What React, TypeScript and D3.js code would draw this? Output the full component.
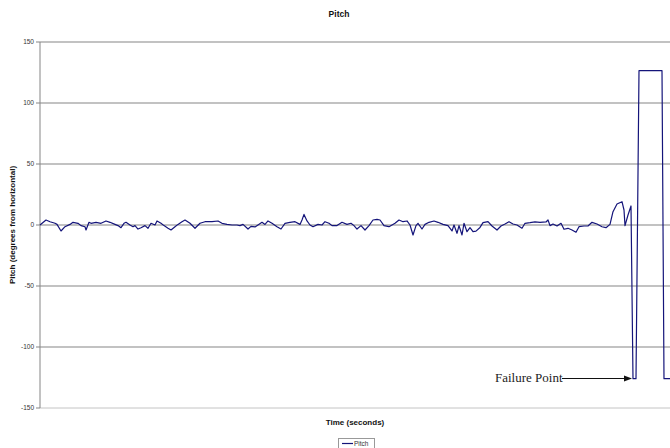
import React from "react";
import * as d3 from "d3";

const title = "Pitch";
const yAxisTitle = "Pitch (degrees from horizontal)";
const xAxisTitle = "Time (seconds)";
const seriesName = "Pitch";
const yTicks = [150, 100, 50, 0, -50, -100, -150];

const times = [
  0.0, 0.6, 1.0, 1.5, 1.7, 2.1, 2.5, 3.0, 3.3, 3.8, 4.1, 4.5, 4.6, 4.9, 5.1, 5.6, 6.1, 6.6, 7.0, 7.5,
  7.8, 8.1, 8.4, 8.6, 9.0, 9.3, 9.5, 9.8, 10.1, 10.5, 10.8, 11.1, 11.5, 11.7, 12.1, 12.4, 12.8, 13.1, 13.5, 13.8,
  14.2, 14.5, 15.0, 15.5, 16.0, 16.5, 17.2, 17.8, 18.2, 18.7, 19.2, 19.7, 20.0, 20.3, 20.8, 21.1, 21.5, 21.8, 22.2, 22.5,
  22.8, 23.2, 23.7, 24.1, 24.5, 25.0, 25.5, 26.0, 26.2, 26.4, 26.7, 27.0, 27.3, 27.8, 28.2, 28.5, 28.9, 29.2, 29.7, 30.2,
  30.7, 31.1, 31.4, 31.7, 32.1, 32.5, 32.9, 33.3, 33.7, 34.0, 34.4, 34.9, 35.5, 35.9, 36.3, 36.7, 37.0, 37.3, 37.6, 37.8,
  38.2, 38.5, 38.9, 39.4, 39.8, 40.3, 40.8, 41.2, 41.4, 41.7, 41.9, 42.2, 42.4, 42.7, 43.0, 43.3, 43.6, 44.0, 44.3, 44.8,
  45.2, 45.7, 46.1, 46.5, 46.9, 47.3, 47.7, 48.2, 48.5, 49.0, 49.5, 50.0, 50.6, 50.8, 51.0, 51.3, 51.7, 52.1, 52.4, 52.8,
  53.2, 53.6, 53.9, 54.4, 54.8, 55.2, 55.7, 56.2, 56.6, 57.0, 57.3, 57.7, 58.2, 58.4, 58.5, 58.8, 59.1, 59.3, 59.6, 59.9,
  62.2, 62.4, 63.0,
];

const pitch = [
  0, 4.1, 2.7, 1.4, 0.5, -4.9, -1.4, 0.5, 2.2, 1.4, -0.5, -1.4, -4.1, 2.2, 1.4, 2.2, 1.4, 3.3, 2.2, 0.5,
  -0.5, -2.2, 1.4, 2.2, 0, -1.4, -0.5, -3.3, -2.2, -0.5, -2.7, 1.4, 0, 3.3, 1.4, -0.5, -2.7, -4.1, -1.4, 0.5,
  2.7, 4.1, 1.4, -2.7, 1.4, 2.7, 2.7, 3.3, 1.4, 0.5, 0, 0, -0.5, 0.5, -3.3, -1.1, -1.6, 0, 2.2, 0.5,
  3.3, 1.4, -1.4, -3.3, 1.4, 2.2, 2.7, 0.5, 4.1, 8.7, 3.3, 0, -1.4, 0.5, 0, 2.7, 1.4, -0.5, -0.5, 2.2,
  0.5, 1.4, -0.5, -3.3, -0.5, -4.1, -0.5, 4.1, 4.6, 4.1, -0.5, -1.4, 1.4, 4.1, 2.7, 3.3, 0, -8.2, -0.5, 1.4,
  -3.3, 0.5, 2.2, 3.3, 2.2, 0.5, -0.5, -4.9, 0, -6.8, -0.5, -8.2, 1.4, -5.5, -2.2, -5.5, -5.0, -2.0, 1.9, 2.7,
  -0.8, -4.1, -0.8, 0.8, 2.7, 0.8, 0, -2.7, 1.4, 1.9, 2.5, 2.2, 2.5, 4.1, -0.5, 0.8, -0.8, 1.4, -3.5, -2.7,
  -4.1, -6.0, -1.4, -0.8, -0.8, 2.2, 0.8, -1.4, -2.2, 0.5, 10.9, 17.2, 19.1, 12.3, -0.5, 8.2, 15.6, -126, -126, 126.5,
  126.5, -126, -126,
];

const W = 670;
const H = 448;
const plot = { left: 40, right: 670, top: 42, bottom: 408 };

export default function App() {
  const x = d3.scaleLinear().domain([0, 63]).range([plot.left, plot.right]);
  const y = d3.scaleLinear().domain([-150, 150]).range([plot.bottom, plot.top]);
  const data = times.map((t, i) => [t, pitch[i]] as [number, number]);
  const line = d3
    .line<[number, number]>()
    .x((d) => x(d[0]))
    .y((d) => y(d[1]));

  const sans = "'Liberation Sans', Arial, sans-serif";
  const navy = "#14147a";

  return (
    <svg
      width={W}
      height={H}
      style={{ position: "absolute", left: 0, top: 0, background: "#fff" }}
      xmlns="http://www.w3.org/2000/svg"
    >
      <rect x={0} y={0} width={W} height={H} fill="#fff" />
      <text x={339} y={17} textAnchor="middle" fontFamily={sans} fontSize={8.5} fontWeight="bold" fill="#111">
        {title}
      </text>
      {yTicks.map((t) => (
        <g key={t}>
          <line
            x1={plot.left}
            x2={plot.right}
            y1={y(t)}
            y2={y(t)}
            stroke={t === -150 ? "#c4c4c4" : "#858585"}
            strokeWidth={1}
          />
          <line x1={plot.left - 4} x2={plot.left} y1={y(t)} y2={y(t)} stroke="#858585" />
          <text
            x={plot.left - 6}
            y={y(t)}
            dy="0.35em"
            textAnchor="end"
            fontFamily={sans}
            fontSize={6.5}
            fill="#333"
          >
            {t}
          </text>
        </g>
      ))}
      <line x1={plot.left} x2={plot.left} y1={plot.top} y2={plot.bottom} stroke="#858585" />
      <path d={line(data) || ""} fill="none" stroke={navy} strokeWidth={1.2} strokeLinejoin="round" />
      <text
        transform={`translate(15, ${(plot.top + plot.bottom) / 2}) rotate(-90)`}
        textAnchor="middle"
        fontFamily={sans}
        fontSize={8}
        fontWeight="bold"
        fill="#111"
      >
        {yAxisTitle}
      </text>
      <text
        x={(plot.left + plot.right) / 2}
        y={425}
        textAnchor="middle"
        fontFamily={sans}
        fontSize={8}
        fontWeight="bold"
        fill="#111"
      >
        {xAxisTitle}
      </text>
      <g>
        <rect x={338.5} y={438.5} width={36} height={10} fill="#fff" stroke="#999" />
        <line x1={342} x2={353} y1={443.5} y2={443.5} stroke={navy} strokeWidth={1.2} />
        <text x={354} y={446} fontFamily={sans} fontSize={6.5} fill="#333">
          {seriesName}
        </text>
      </g>
      <g>
        <text x={495} y={382} fontFamily="'Liberation Serif', 'Times New Roman', serif" fontSize={13} fill="#222">
          Failure Point
        </text>
        <line x1={562} x2={625} y1={378.5} y2={378.5} stroke="#111" strokeWidth={1} />
        <polygon points="632,378.5 624,375.5 624,381.5" fill="#111" />
      </g>
    </svg>
  );
}
